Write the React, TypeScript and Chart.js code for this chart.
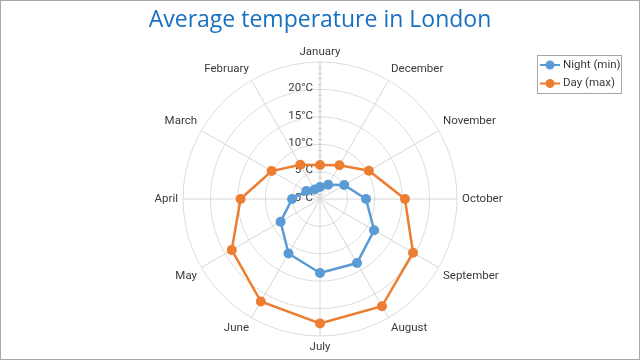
import React, { useEffect, useRef } from "react";
import { Chart, registerables } from "chart.js";

Chart.register(...registerables);

const months = ["January", "February", "March", "April", "May", "June", "July", "August", "September", "October", "November", "December"];
const nightMin = [2.2, 2.0, 2.9, 5.1, 8.3, 11.5, 13.5, 13.5, 11.4, 8.4, 5.1, 3.0];
const dayMax = [6.2, 7.2, 10.2, 14.5, 18.6, 21.6, 22.7, 22.6, 19.6, 15.5, 10.3, 7.1];
const tickValues = [0, 5, 10, 15, 20];
const seriesNames = ["Night (min)", "Day (max)"];
const seriesColors = ["#5B9BD5", "#ED7D31"];

// months run counter-clockwise in the reference; Chart.js draws clockwise
const order = [0, 11, 10, 9, 8, 7, 6, 5, 4, 3, 2, 1];
const labels = order.map((i) => months[i]);
const nightData = order.map((i) => nightMin[i]);
const dayData = order.map((i) => dayMax[i]);

const LABEL_FONT = "11.5px Roboto";
const TEXT_COLOR = "#3a3a3a";

const customPlugin = {
  id: "custom",
  beforeDatasetsDraw(chart: any) {
    const ctx = chart.ctx;
    const scale = chart.scales.r;
    const cx = scale.xCenter;
    const cy = scale.yCenter;
    ctx.save();
    // minor ticks on vertical axis
    ctx.strokeStyle = "#d0d0d0";
    ctx.lineWidth = 1;
    for (let v = 1; v < 25; v++) {
      const d = scale.getDistanceFromCenterForValue(v);
      const y = Math.round(cy - d) + 0.5;
      ctx.beginPath();
      ctx.moveTo(cx - 2, y);
      ctx.lineTo(cx + 2, y);
      ctx.stroke();
    }
    ctx.font = LABEL_FONT;
    ctx.fillStyle = TEXT_COLOR;
    ctx.textAlign = "right";
    ctx.textBaseline = "middle";
    tickValues.forEach((v) => {
      const d = scale.getDistanceFromCenterForValue(v);
      ctx.fillText(v + "°C", cx - 7, cy - d - 1);
    });
    ctx.restore();
  },
  afterDraw(chart: any) {
    const ctx = chart.ctx;
    const scale = chart.scales.r;
    ctx.save();
    ctx.font = LABEL_FONT;
    ctx.fillStyle = TEXT_COLOR;
    ctx.textBaseline = "middle";
    const h = 13;
    labels.forEach((lab, i) => {
      const angle = i * 30;
      let align: CanvasTextAlign = "center";
      if (angle > 0 && angle < 180) align = "left";
      else if (angle > 180) align = "right";
      const pad = angle === 0 ? 3 : 5;
      const p = scale.getPointPosition(i, scale.drawingArea + pad);
      let y = p.y;
      if (angle === 90 || angle === 270) y = p.y;
      else if (angle > 270 || angle < 90) y = p.y - h / 2;
      else y = p.y + h / 2;
      ctx.textAlign = align;
      ctx.fillText(lab, p.x, y);
    });

    // legend
    ctx.strokeStyle = "#a6a6a6";
    ctx.lineWidth = 1;
    ctx.strokeRect(537.5, 55.5, 84, 38);
    seriesNames.forEach((name, i) => {
      const y = 65 + i * 18.5;
      ctx.strokeStyle = seriesColors[i];
      ctx.lineWidth = 2;
      ctx.beginPath();
      ctx.moveTo(540, y);
      ctx.lineTo(560, y);
      ctx.stroke();
      ctx.fillStyle = seriesColors[i];
      ctx.beginPath();
      ctx.arc(550, y, 4.5, 0, Math.PI * 2);
      ctx.fill();
      ctx.fillStyle = TEXT_COLOR;
      ctx.textAlign = "left";
      ctx.fillText(name, 563, y);
    });

    // outer border
    ctx.strokeStyle = "#a8a8a8";
    ctx.lineWidth = 1;
    ctx.strokeRect(0.5, 0.5, 639, 359);
    ctx.restore();
  },
};

export default function App() {
  const ref = useRef<HTMLCanvasElement | null>(null);
  useEffect(() => {
    document.body.style.margin = "0";
    const canvas = ref.current;
    if (!canvas) return;
    const chart = new Chart(canvas, {
      type: "radar",
      data: {
        labels,
        datasets: [
          {
            label: seriesNames[0],
            data: nightData,
            borderColor: seriesColors[0],
            backgroundColor: seriesColors[0],
            pointBackgroundColor: seriesColors[0],
            pointBorderColor: seriesColors[0],
            pointRadius: 5,
            pointBorderWidth: 0,
            borderWidth: 2.5,
            fill: false,
          },
          {
            label: seriesNames[1],
            data: dayData,
            borderColor: seriesColors[1],
            backgroundColor: seriesColors[1],
            pointBackgroundColor: seriesColors[1],
            pointBorderColor: seriesColors[1],
            pointRadius: 5,
            pointBorderWidth: 0,
            borderWidth: 2.5,
            fill: false,
          },
        ],
      },
      options: {
        responsive: false,
        animation: false,
        devicePixelRatio: 1,
        layout: { padding: { top: 0, bottom: 24, left: 0, right: 0 } },
        plugins: {
          legend: { display: false },
          tooltip: { enabled: false },
          title: {
            display: true,
            text: "Average temperature in London",
            color: "#1a70c0",
            font: { family: "'Open Sans'", size: 23, weight: "normal", lineHeight: 1.2 },
            padding: { top: 7, bottom: 27.4 },
          },
        },
        scales: {
          r: {
            min: 0,
            max: 25,
            ticks: { stepSize: 5, display: false },
            grid: { circular: true, color: "#dcdcdc", lineWidth: 1 },
            angleLines: {
              color: (c: any) => (c.index === 0 ? "#c8c8c8" : "#d6d6d6"),
              lineWidth: 1,
            },
            pointLabels: { display: false },
          },
        },
      },
      plugins: [customPlugin],
    });
    return () => chart.destroy();
  }, []);
  return (
    <div style={{ width: 640, height: 360, background: "#ffffff" }}>
      <canvas ref={ref} width={640} height={360} style={{ display: "block" }} />
    </div>
  );
}
